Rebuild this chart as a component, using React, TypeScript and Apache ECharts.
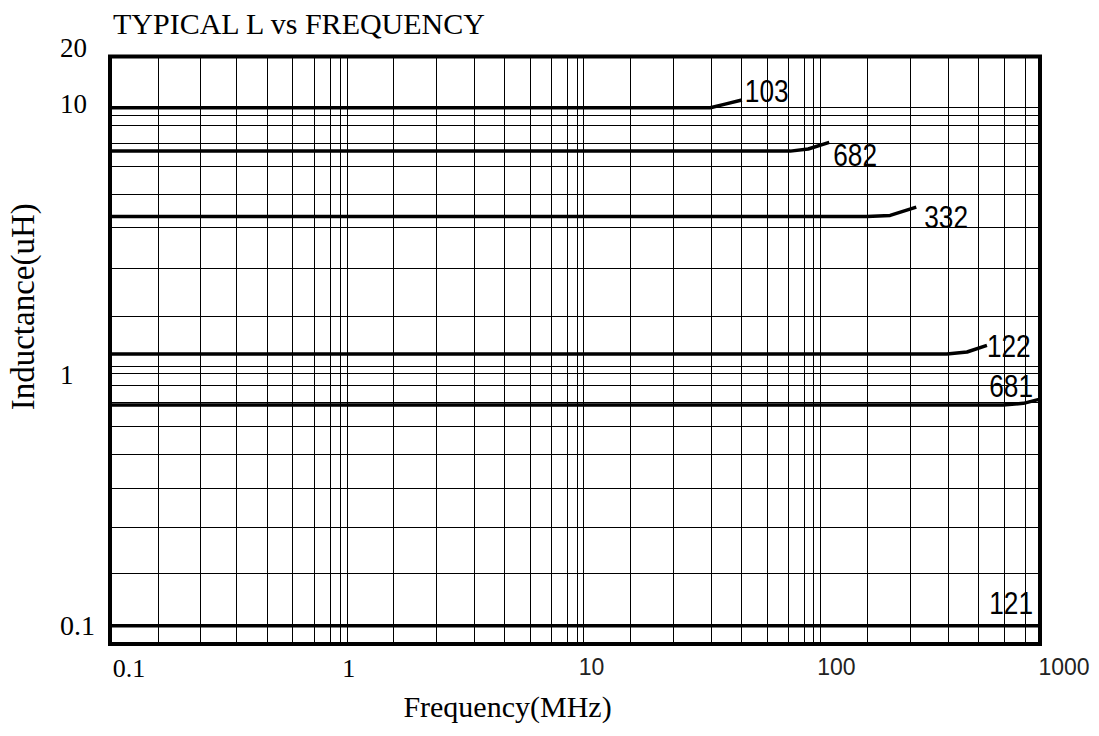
import React, { useEffect, useRef } from 'react';
import * as echarts from 'echarts';

const TITLE = 'TYPICAL L vs FREQUENCY';
const X_NAME = 'Frequency(MHz)';
const Y_NAME = 'Inductance(uH)';

const X_MIN = 0.1;
const X_MAX = 846;
const Y_MIN = 0.085;
const Y_MAX = 15.77;

const X_TICK_LABELS = ['0.1', '1', '10', '100', '1000'];
const Y_TICK_LABELS = ['0.1', '1', '10', '20'];

// the chart paper: a line at every decade plus these sub-lines inside each decade
const DECADES_X = [0.1, 1, 10, 100];
const DECADES_Y = [0.1, 1, 10];
const SUB_LINES = [1.57, 2.39, 3.45, 4.62, 5.95, 7.32, 8.53, 9.37];

const CURVE_NAMES = ['103', '682', '332', '122', '681', '121'];
const CURVE_103 = [[0.1, 10], [34.3, 10], [39.6, 10.33], [46.6, 10.71]];
const CURVE_682 = [[0.1, 6.8], [74.6, 6.8], [88.8, 6.93], [109, 7.35]];
const CURVE_332 = [[0.1, 3.8], [157, 3.8], [197, 3.84], [254, 4.13]];
const CURVE_122 = [[0.1, 1.12], [342, 1.12], [416, 1.14], [505, 1.21]];
const CURVE_681 = [[0.1, 0.711], [591, 0.711], [720, 0.722], [846, 0.75]];
const CURVE_121 = [[0.1, 0.1], [846, 0.1]];

const CURVE_LABEL_PLACE = [
  { dx: 3, dy: -8.5, align: 'left' },
  { dx: 4, dy: 13, align: 'left' },
  { dx: 8, dy: 10, align: 'left' },
  { dx: 0, dy: 1, align: 'left' },
  { dx: -7, dy: -13, align: 'right' },
  { dx: -7, dy: -23, align: 'right' },
];

const SERIF = "'Liberation Serif', 'Times New Roman', serif";
const SANS = "'Liberation Sans', Arial, sans-serif";

function decadeIndex(v: number): number {
  const l = Math.log10(v);
  if (Math.abs(l - Math.round(l)) > 0.01) return -1;
  return Math.round(l) + 1;
}

export default function App() {
  const ref = useRef<HTMLDivElement>(null);

  useEffect(() => {
    const el = ref.current;
    if (!el) return;
    const chart = echarts.init(el, null, { renderer: 'svg' });
    const curves = [CURVE_103, CURVE_682, CURVE_332, CURVE_122, CURVE_681, CURVE_121];

    const xGrid: number[] = [];
    DECADES_X.forEach((d) => {
      xGrid.push(d);
      SUB_LINES.forEach((m) => {
        const v = +(d * m).toPrecision(5);
        if (v < X_MAX) xGrid.push(v);
      });
    });
    const yGrid: number[] = [];
    DECADES_Y.forEach((d) => {
      yGrid.push(d);
      SUB_LINES.forEach((m) => {
        const v = +(d * m).toPrecision(5);
        if (v < Y_MAX) yGrid.push(v);
      });
    });

    const xFormatter = (v: number) => {
      if (v > X_MAX * 0.98) return `{x4|${X_TICK_LABELS[4]}}`;
      const k = decadeIndex(v);
      if (k < 0 || k > 3) return '';
      return `{x${k}|${X_TICK_LABELS[k]}}`;
    };
    const yFormatter = (v: number) => {
      if (v > Y_MAX * 0.98) return `{y3|${Y_TICK_LABELS[3]}}`;
      const k = decadeIndex(v);
      if (k < 0 || k > 2) return '';
      return `{y${k}|${Y_TICK_LABELS[k]}}`;
    };

    const option: any = {
      animation: false,
      backgroundColor: '#ffffff',
      title: {
        text: TITLE,
        left: 113,
        top: 8,
        padding: 0,
        textStyle: { fontFamily: SERIF, fontSize: 30, fontWeight: 'normal', color: '#000' },
      },
      grid: {
        left: 110,
        right: 59,
        top: 56.5,
        bottom: 92,
        show: true,
        borderColor: '#000',
        borderWidth: 4,
        backgroundColor: 'transparent',
        containLabel: false,
        outerBoundsMode: 'none',
      },
      xAxis: {
        type: 'log',
        logBase: 10,
        min: X_MIN,
        max: X_MAX,
        name: X_NAME,
        nameLocation: 'middle',
        nameGap: 47,
        nameMoveOverlap: false,
        nameTextStyle: { fontFamily: SERIF, fontSize: 30, color: '#000', padding: [0, 135, 0, 0] },
        axisLine: { show: false },
        axisTick: { show: false },
        splitLine: { show: false },
        minorSplitLine: { show: false },
        axisLabel: {
          show: true,
          margin: 11,
          showMinLabel: true,
          showMaxLabel: true,
          hideOverlap: false,
          color: '#000',
          fontFamily: SERIF,
          fontSize: 26,
          formatter: xFormatter,
          rich: {
            x0: { fontFamily: SERIF, fontSize: 26, color: '#000', padding: [0, 0, 0, 38] },
            x1: { fontFamily: SERIF, fontSize: 26, color: '#000', padding: [0, 0, 0, 4] },
            x2: { fontFamily: SANS, fontSize: 23, color: '#222', padding: [0, 0, 0, 16] },
            x3: { fontFamily: SANS, fontSize: 23, color: '#222', padding: [0, 0, 0, 32] },
            x4: { fontFamily: SANS, fontSize: 23, color: '#222', padding: [0, 0, 0, 48] },
          },
        },
      },
      yAxis: {
        type: 'log',
        logBase: 10,
        min: Y_MIN,
        max: Y_MAX,
        name: Y_NAME,
        nameLocation: 'middle',
        nameGap: 71,
        nameRotate: 90,
        nameMoveOverlap: false,
        nameTextStyle: { fontFamily: SERIF, fontSize: 33, color: '#000', padding: [0, 0, 0, 87] },
        axisLine: { show: false },
        axisTick: { show: false },
        splitLine: { show: false },
        minorSplitLine: { show: false },
        axisLabel: {
          show: true,
          margin: 50,
          align: 'left',
          showMinLabel: true,
          showMaxLabel: true,
          hideOverlap: false,
          color: '#000',
          fontFamily: SERIF,
          fontSize: 27,
          formatter: yFormatter,
          rich: {
            y0: { fontFamily: SERIF, fontSize: 28, color: '#000' },
            y1: { fontFamily: SERIF, fontSize: 27, color: '#000', padding: [17, 0, 0, 0] },
            y2: { fontFamily: SERIF, fontSize: 27, color: '#000', padding: [0, 0, 7, 0] },
            y3: { fontFamily: SERIF, fontSize: 27, color: '#000', padding: [0, 0, 17, 0] },
          },
        },
      },
      series: [
        {
          name: 'paper',
          type: 'line',
          data: [[1, 1]],
          showSymbol: false,
          symbol: 'none',
          silent: true,
          lineStyle: { opacity: 0, width: 0 },
          z: 1,
          markLine: {
            silent: true,
            animation: false,
            symbol: ['none', 'none'],
            label: { show: false },
            emphasis: { disabled: true },
            lineStyle: { color: '#000', width: 1, type: 'solid', opacity: 1 },
            data: [
              ...xGrid.map((v) => ({ xAxis: v })),
              ...yGrid.map((v) => ({ yAxis: v })),
            ],
          },
        },
        ...curves.map((c, i) => ({
          name: CURVE_NAMES[i],
          type: 'line',
          data: c,
          showSymbol: false,
          symbol: 'none',
          silent: true,
          z: 3,
          lineStyle: { color: '#000', width: 3.5, cap: 'butt', join: 'round' },
        })),
      ],
    };

    chart.setOption(option);

    const graphics = curves.map((c, i) => {
      const last = c[c.length - 1];
      const p = chart.convertToPixel({ gridIndex: 0 }, last) as number[];
      const place = CURVE_LABEL_PLACE[i];
      return {
        type: 'text',
        x: p[0] + place.dx,
        y: p[1] + place.dy,
        scaleX: 0.82,
        scaleY: 1,
        silent: true,
        z: 10,
        style: {
          text: CURVE_NAMES[i],
          fill: '#000',
          fontSize: 32,
          fontFamily: SANS,
          align: place.align,
          verticalAlign: 'middle',
          textAlign: place.align,
          textVerticalAlign: 'middle',
        },
      };
    });
    chart.setOption({ graphic: graphics });

    return () => {
      chart.dispose();
    };
  }, []);

  return (
    <div
      ref={ref}
      style={{ position: 'absolute', left: 0, top: 0, width: 1099, height: 736, background: '#fff' }}
    />
  );
}
